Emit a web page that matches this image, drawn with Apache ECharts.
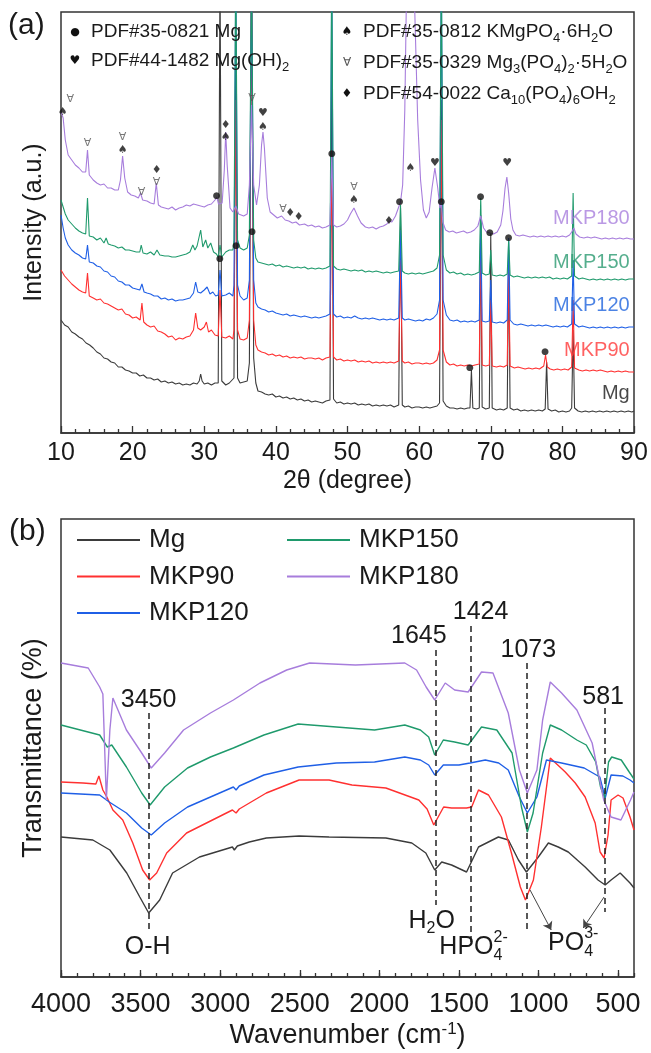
<!DOCTYPE html>
<html><head><meta charset="utf-8">
<script src="https://cdn.jsdelivr.net/npm/echarts@6/dist/echarts.min.js"></script>
<style>html,body{margin:0;padding:0;background:#fff}#c{width:651px;height:1053px}</style>
</head><body><div id="c"></div>
<script>
// ---------------- DATA ----------------
const seriesNames = ['Mg', 'MKP90', 'MKP120', 'MKP150', 'MKP180'];

// XRD: flat [2theta, intensity(a.u.)] pairs
const xrdMg = [10.0,113, 10.5,108, 11.0,106, 11.5,101, 12.0,99, 12.5,96, 13.0,94, 13.5,90, 14.0,88, 14.5,85, 15.0,81, 15.5,79, 16.0,75, 16.5,74, 17.0,71, 17.5,70, 18.0,66, 18.5,66, 19.0,63, 19.5,62, 20.0,60, 20.5,60, 21.0,57, 21.5,58, 22.0,55, 22.5,55, 23.0,53, 23.5,54, 24.0,51, 24.5,52, 25.0,50, 25.5,51, 26.0,49, 26.5,50, 27.0,48, 27.5,49, 28.0,48, 28.5,50, 29.0,49, 29.3,52, 29.5,59, 29.7,52, 30.0,49, 30.5,50, 31.0,48, 31.5,50, 31.95,50, 32.2,470, 32.45,52, 33.0,48, 33.5,50, 34.15,55, 34.4,400, 34.65,55, 35.0,50, 35.5,51, 36.0,52, 36.3,70, 36.6,470, 36.9,75, 37.2,50, 37.5,42, 38.0,41, 38.5,39, 39.0,38, 39.5,39, 40.0,36, 40.5,37, 41.0,35, 41.5,36, 42.0,34, 42.5,35, 43.0,33, 43.5,34, 44.0,32, 44.5,33, 45.0,31, 45.5,32, 46.0,31, 46.5,30, 47.0,32, 47.55,33, 47.8,380, 48.05,34, 48.5,30, 49.0,31, 49.5,29, 50.0,30, 50.5,29, 51.0,30, 51.5,28, 52.0,29, 52.5,28, 53.0,29, 53.5,27, 54.0,28, 54.5,27, 55.0,28, 55.5,27, 56.0,28, 56.5,26, 57.15,28, 57.4,225, 57.65,28, 58.0,26, 58.5,27, 59.0,25, 59.5,26, 60.0,26, 60.5,25, 61.0,26, 61.5,25, 62.0,26, 62.5,27, 62.85,30, 63.1,333, 63.35,32, 63.8,27, 64.3,25, 64.8,25, 65.3,24, 65.8,25, 66.3,24, 66.8,25, 67.1,25, 67.3,63, 67.5,25, 68.0,24, 68.4,25, 68.6,218, 68.8,26, 69.3,24, 69.8,25, 70.0,200, 70.2,25, 70.8,23, 71.3,24, 71.8,23, 72.3,25, 72.5,183, 72.7,25, 73.2,23, 73.7,24, 74.2,22, 74.7,23, 75.2,22, 75.7,23, 76.2,22, 76.7,23, 77.2,22, 77.6,24, 77.8,71, 78.0,24, 78.5,22, 79.0,23, 79.5,21, 80.0,22, 80.5,21, 81.0,22, 81.3,25, 81.5,103, 81.7,25, 82.2,22, 82.7,21, 83.2,22, 83.7,21, 84.2,22, 84.7,21, 85.2,22, 85.7,21, 86.2,22, 86.7,21, 87.2,22, 87.7,21, 88.2,22, 88.7,21, 89.2,22, 89.7,21, 90.0,22];

const xrdMKP90 = [10.0,163, 10.5,157, 11.0,153, 11.5,149, 12.0,146, 12.5,143, 13.0,141, 13.45,140, 13.7,160, 13.95,137, 14.5,135, 15.0,133, 15.5,134, 16.0,130, 16.5,129, 17.0,127, 17.5,125, 18.0,123, 18.5,124, 19.0,119, 19.5,118, 20.0,115, 20.5,116, 21.05,113, 21.3,130, 21.55,111, 22.0,108, 22.5,106, 23.0,107, 23.5,102, 24.0,101, 24.5,99, 25.0,96, 25.5,97, 26.0,93, 26.5,95, 27.0,94, 27.5,96, 28.0,97, 28.5,103, 28.8,120, 29.1,105, 29.5,103, 30.0,106, 30.3,111, 30.6,101, 31.0,103, 31.5,98, 31.95,97, 32.2,143, 32.45,96, 33.0,95, 33.5,97, 34.0,94, 34.15,103, 34.4,333, 34.65,103, 35.0,94, 35.5,93, 36.0,95, 36.3,113, 36.6,470, 36.9,113, 37.2,88, 37.5,83, 38.0,81, 38.5,80, 39.0,78, 39.5,79, 40.0,77, 40.5,78, 41.0,76, 41.5,77, 42.0,75, 42.5,76, 43.0,75, 43.5,76, 44.0,74, 44.5,75, 45.0,75, 45.5,74, 46.0,75, 46.5,73, 47.0,75, 47.55,76, 47.8,283, 48.05,76, 48.5,73, 49.0,74, 49.5,72, 50.0,73, 50.5,72, 51.0,73, 51.5,71, 52.0,72, 52.5,71, 53.0,72, 53.5,70, 54.0,71, 54.5,70, 55.0,71, 55.5,70, 56.0,71, 56.5,70, 57.15,72, 57.4,173, 57.65,72, 58.0,70, 58.5,71, 59.0,69, 59.5,70, 60.0,70, 60.5,69, 61.0,70, 61.5,69, 62.0,70, 62.5,73, 62.85,83, 63.1,313, 63.35,83, 63.8,71, 64.3,68, 64.8,69, 65.3,67, 65.8,68, 66.3,67, 66.8,68, 67.3,67, 67.8,68, 68.4,69, 68.6,193, 68.8,68, 69.3,67, 69.8,68, 70.0,133, 70.2,67, 70.8,66, 71.3,67, 71.8,66, 72.3,68, 72.5,163, 72.7,67, 73.3,65, 73.8,66, 74.3,65, 74.8,64, 75.3,65, 75.8,64, 76.3,65, 76.8,64, 77.4,67, 77.65,78, 77.9,66, 78.3,64, 78.8,63, 79.3,64, 79.8,63, 80.3,64, 80.8,63, 81.3,66, 81.5,133, 81.7,65, 82.3,63, 82.8,62, 83.3,63, 83.8,62, 84.3,63, 84.8,62, 85.3,63, 85.8,62, 86.3,61, 86.8,62, 87.3,61, 87.8,62, 88.3,61, 88.8,62, 89.3,61, 90.0,61];

const xrdMKP120 = [10.0,218, 10.3,205, 10.6,195, 11.0,188, 11.5,183, 12.0,180, 12.5,178, 13.0,175, 13.45,174, 13.7,188, 13.95,171, 14.5,170, 15.0,167, 15.5,166, 16.0,162, 16.5,161, 17.0,157, 17.5,156, 18.0,152, 18.5,151, 19.0,148, 19.5,148, 20.0,145, 20.5,144, 21.0,143, 21.3,149, 21.6,141, 22.0,140, 22.5,139, 23.0,137, 23.5,137, 24.0,134, 24.5,135, 25.0,133, 25.5,134, 26.0,132, 26.5,133, 27.0,133, 27.5,134, 28.0,135, 28.5,140, 28.8,151, 29.1,141, 29.5,140, 30.0,143, 30.4,146, 30.8,139, 31.2,141, 31.6,137, 31.95,138, 32.2,163, 32.45,137, 33.0,138, 33.5,140, 34.0,137, 34.15,148, 34.4,470, 34.65,148, 35.0,137, 35.5,133, 36.0,135, 36.3,153, 36.6,470, 36.9,153, 37.2,130, 37.5,126, 38.0,124, 38.5,123, 39.0,121, 39.5,122, 40.0,120, 40.5,119, 41.0,118, 41.5,119, 42.0,117, 42.5,118, 43.0,117, 43.5,116, 44.0,117, 44.5,116, 45.0,115, 45.5,116, 46.0,115, 46.5,116, 47.0,117, 47.55,119, 47.8,470, 48.05,119, 48.5,116, 49.0,117, 49.5,115, 50.0,116, 50.5,115, 51.0,117, 51.5,115, 52.0,114, 52.5,115, 53.0,114, 53.5,115, 54.0,114, 54.5,113, 55.0,114, 55.5,113, 56.0,114, 56.5,113, 57.15,115, 57.4,203, 57.65,115, 58.0,113, 58.5,114, 59.0,113, 59.5,112, 60.0,113, 60.5,112, 61.0,114, 61.5,113, 62.0,115, 62.5,119, 62.85,133, 63.1,470, 63.35,133, 63.8,118, 64.3,113, 64.8,112, 65.3,113, 65.8,111, 66.3,112, 66.8,111, 67.3,112, 67.8,111, 68.4,113, 68.6,213, 68.8,112, 69.3,111, 69.8,112, 70.0,153, 70.2,111, 70.8,110, 71.3,111, 71.8,110, 72.3,113, 72.5,195, 72.7,113, 73.2,109, 73.7,108, 74.2,109, 74.7,108, 75.2,107, 75.7,108, 76.2,107, 76.7,108, 77.2,107, 77.7,108, 78.2,107, 78.7,106, 79.2,107, 79.7,106, 80.2,107, 80.7,106, 81.3,109, 81.5,173, 81.7,109, 82.3,106, 82.8,107, 83.3,106, 83.8,105, 84.3,106, 84.8,105, 85.3,106, 85.8,105, 86.3,106, 86.8,105, 87.3,106, 87.8,105, 88.3,106, 88.8,105, 89.3,106, 90.0,106];

const xrdMKP150 = [10.0,233, 10.3,226, 10.6,219, 11.0,213, 11.5,209, 12.0,205, 12.5,202, 13.0,200, 13.45,199, 13.7,235, 13.95,197, 14.5,196, 15.0,193, 15.5,195, 16.0,190, 16.3,195, 16.6,189, 17.0,188, 17.5,187, 18.0,185, 18.5,186, 19.0,183, 19.5,183, 20.0,182, 20.5,181, 21.0,181, 21.2,188, 21.45,180, 22.0,179, 22.5,181, 23.0,178, 23.4,183, 23.8,178, 24.5,177, 25.0,177, 25.5,176, 26.0,176, 26.5,177, 27.0,178, 27.5,179, 28.0,181, 28.4,188, 28.7,183, 29.0,187, 29.5,203, 29.8,186, 30.2,193, 30.5,185, 30.9,190, 31.3,181, 31.7,179, 31.95,176, 32.2,188, 32.45,176, 33.0,181, 33.5,183, 34.0,183, 34.15,193, 34.4,470, 34.65,193, 35.0,185, 35.5,183, 36.0,185, 36.3,198, 36.6,470, 36.9,193, 37.2,175, 37.5,171, 38.0,170, 38.5,169, 39.0,168, 39.5,169, 40.0,167, 40.5,168, 41.0,166, 41.5,167, 42.0,166, 42.5,165, 43.0,166, 43.5,165, 44.0,166, 44.5,164, 45.0,165, 45.5,164, 46.0,165, 46.5,164, 47.0,165, 47.55,167, 47.8,470, 48.05,167, 48.5,164, 49.0,163, 49.5,164, 50.0,163, 50.5,162, 51.0,163, 51.5,162, 52.0,163, 52.5,161, 53.0,162, 53.5,161, 54.0,162, 54.5,161, 55.0,160, 55.5,161, 56.0,160, 56.5,161, 57.15,162, 57.4,228, 57.65,162, 58.0,160, 58.5,159, 59.0,160, 59.5,159, 60.0,160, 60.5,159, 61.0,160, 61.5,161, 62.0,162, 62.5,165, 62.85,178, 63.1,470, 63.35,178, 63.8,163, 64.3,160, 64.8,161, 65.3,159, 65.8,160, 66.3,158, 66.8,159, 67.3,158, 67.8,159, 68.4,161, 68.6,235, 68.8,160, 69.3,158, 69.8,159, 70.0,183, 70.2,158, 70.8,157, 71.3,158, 71.8,157, 72.3,159, 72.5,193, 72.7,158, 73.2,156, 73.7,157, 74.2,156, 74.7,155, 75.2,156, 75.7,155, 76.2,156, 76.7,155, 77.2,156, 77.7,155, 78.2,156, 78.7,154, 79.2,155, 79.7,154, 80.2,155, 80.7,154, 81.3,157, 81.5,240, 81.7,157, 82.3,154, 82.8,155, 83.3,154, 83.8,153, 84.3,154, 84.8,153, 85.3,154, 85.8,153, 86.3,154, 86.8,153, 87.3,154, 87.8,153, 88.3,154, 88.8,153, 89.3,154, 90.0,154];

const xrdMKP180 = [10.0,321, 10.3,315, 10.6,293, 11.0,278, 11.5,273, 12.0,268, 12.5,265, 13.0,261, 13.45,261, 13.7,283, 13.95,258, 14.5,253, 15.0,250, 15.5,248, 16.0,249, 16.5,245, 17.0,245, 17.5,243, 18.0,243, 18.3,253, 18.6,277, 18.9,255, 19.3,241, 19.8,238, 20.3,237, 20.8,235, 21.1,240, 21.4,233, 22.0,232, 22.5,230, 23.0,229, 23.3,250, 23.6,228, 24.0,226, 24.5,225, 25.0,224, 25.5,226, 26.0,223, 26.5,225, 27.0,226, 27.5,228, 28.0,227, 28.5,229, 29.0,228, 29.5,227, 30.0,226, 30.5,228, 31.0,229, 31.5,233, 31.75,236, 32.0,229, 32.5,230, 32.8,263, 33.0,301, 33.2,268, 33.6,225, 34.0,221, 34.4,227, 34.8,219, 35.5,217, 36.0,219, 36.3,248, 36.6,328, 36.9,248, 37.3,228, 37.7,248, 38.0,288, 38.2,301, 38.4,285, 38.8,235, 39.2,221, 39.7,218, 40.2,215, 40.8,217, 41.3,213, 41.8,212, 42.3,210, 42.8,211, 43.3,208, 44.0,209, 44.5,207, 45.0,208, 45.5,206, 46.0,207, 46.5,205, 47.0,206, 47.55,208, 47.8,277, 48.05,208, 48.5,206, 49.0,207, 49.5,209, 50.0,213, 50.4,219, 50.9,225, 51.4,217, 51.9,210, 52.5,206, 53.0,205, 53.5,206, 54.0,204, 54.5,206, 55.0,207, 55.5,209, 55.8,212, 56.2,211, 56.7,217, 57.1,225, 57.4,231, 57.7,248, 58.0,323, 58.3,473, 59.2,473, 59.5,393, 59.8,313, 60.2,253, 60.6,223, 61.0,215, 61.4,221, 61.8,245, 62.2,265, 62.6,245, 62.9,225, 63.1,231, 63.3,211, 63.7,203, 64.2,201, 64.7,202, 65.2,200, 65.7,201, 66.2,202, 66.7,200, 67.2,201, 67.7,203, 68.2,207, 68.6,217, 69.0,205, 69.4,201, 69.9,200, 70.4,199, 70.9,201, 71.4,208, 71.7,222, 72.0,245, 72.25,256, 72.5,240, 72.8,214, 73.1,203, 73.5,198, 74.0,197, 74.5,198, 75.0,197, 75.5,196, 76.0,197, 76.5,196, 77.0,197, 77.5,196, 78.0,197, 78.5,196, 79.0,197, 79.5,196, 80.0,197, 80.5,196, 81.0,198, 81.3,201, 81.6,205, 81.9,199, 82.4,196, 83.0,195, 83.5,196, 84.0,195, 84.5,196, 85.0,195, 85.5,194, 86.0,195, 86.5,194, 87.0,195, 87.5,194, 88.0,195, 88.5,194, 89.0,195, 89.5,194, 90.0,194];

// Phase markers: [2theta, intensity, glyph]
const xrdMarks = [[10.25,321,'♠'],[11.3,334,'∀'],[13.7,290,'∀'],[18.6,296,'∀'],[18.6,283,'♠'],[21.25,241,'∀'],[23.35,263,'♦'],[23.35,251,'∀'],[31.75,237,'●'],[33.0,308,'♦'],[33.0,296,'♠'],[36.68,335,'∀'],[38.2,320,'♥'],[38.2,306,'♠'],[41.0,224,'∀'],[42.0,220,'♦'],[43.2,216,'♦'],[32.2,174,'●'],[34.45,187,'●'],[36.68,201,'●'],[47.84,279,'●'],[50.9,246,'∀'],[50.9,233,'♠'],[55.8,212,'♦'],[57.3,231,'●'],[58.8,265,'♠'],[62.2,270,'♥'],[63.1,231,'●'],[68.6,236,'●'],[69.9,200,'●'],[72.3,270,'♥'],[72.5,195,'●'],[67.1,65,'●'],[77.6,81,'●']];

// Sample name labels at right end of XRD traces: [2theta, intensity, name]
const xrdNameLabels = [[89.4,215,'MKP180'],[89.4,171,'MKP150'],[89.4,128,'MKP120'],[89.4,83,'MKP90'],[89.4,40,'Mg']];

// FTIR: flat [wavenumber, transmittance(a.u.)] pairs
const ftirMg = [4000,140, 3800,137, 3693,127, 3587,104, 3505,80, 3449,64, 3380,77, 3299,104, 3130,120, 2923,130, 2911,127, 2892,131, 2817,135, 2710,139, 2504,141, 2316,140, 1959,139, 1796,134, 1708,124, 1652,107, 1608,115, 1546,112, 1452,105, 1377,130, 1252,140, 1189,137, 1126,117, 1076,105, 1001,120, 938,134, 876,130, 813,125, 707,110, 626,97, 581,92, 544,97, 487,104, 425,94, 400,89];
const ftirMKP90 = [4000,195, 3862,194, 3781,193, 3762,201, 3737,187, 3712,180, 3674,167, 3612,157, 3549,134, 3487,107, 3443,97, 3399,104, 3336,124, 3211,144, 3086,154, 2923,167, 2900,164, 2880,168, 2710,184, 2504,197, 2316,197, 2172,192, 1959,189, 1752,177, 1700,168, 1658,152, 1596,170, 1546,169, 1452,169, 1420,170, 1377,187, 1314,182, 1233,160, 1170,124, 1114,90, 1082,77, 1032,97, 982,150, 926,219, 832,205, 769,194, 707,180, 644,154, 613,125, 588,119, 563,142, 544,177, 500,182, 469,179, 425,160, 400,147];
const ftirMKP120 = [4000,184, 3757,182, 3697,175, 3589,164, 3493,149, 3433,142, 3349,154, 3205,170, 3061,180, 2917,190, 2900,187, 2880,191, 2725,202, 2510,210, 2270,214, 2030,215, 1840,220, 1742,217, 1690,212, 1652,202, 1598,212, 1500,212, 1430,214, 1334,217, 1250,214, 1190,207, 1120,180, 1070,164, 1010,180, 950,217, 855,214, 713,209, 615,200, 581,179, 544,202, 470,201, 425,197, 400,194];
const ftirMKP150 = [4000,252, 3757,242, 3709,230, 3681,232, 3589,210, 3493,184, 3440,172, 3349,190, 3205,209, 3061,220, 2917,229, 2725,242, 2510,253, 2270,250, 2030,247, 1840,252, 1742,247, 1690,240, 1652,222, 1598,237, 1527,235, 1442,232, 1358,250, 1262,247, 1166,224, 1107,170, 1070,145, 1034,164, 974,224, 926,252, 855,247, 759,237, 700,232, 640,215, 610,190, 585,179, 560,215, 540,220, 480,217, 430,205, 400,198];
const ftirMKP180 = [4000,314, 3829,309, 3757,290, 3737,283, 3715,177, 3693,247, 3674,279, 3589,247, 3493,224, 3433,209, 3349,224, 3230,247, 3061,264, 2917,277, 2750,294, 2582,307, 2438,314, 2150,312, 1840,314, 1766,307, 1706,290, 1652,277, 1586,294, 1527,287, 1442,285, 1358,305, 1286,304, 1190,264, 1120,207, 1070,184, 1010,207, 974,257, 926,295, 855,284, 759,267, 663,234, 590,177, 544,160, 482,157, 422,177, 400,185];

// FTIR band guide lines: [wavenumber, from, to]
const bandLines = [[3450,264,47],[1645,327,72],[1424,351,35],[1073,314,47],[581,269,65]];
// Arrows to PO4 label: [[wn1,v1],[wn2,v2]]
const bandArrows = [[[1053,87],[920,47]],[[588,80],[719,49]]];
// Band value labels: [wavenumber, value, text]
const bandValueLabels = [[3450,277,'3450'],[1752,341,'1645'],[1364,365,'1424'],[1064,327,'1073'],[594,280,'581']];

// Axis ticks
const xrdTicks = {min:10, max:90, interval:10};
const ftirMajorTicks = [500,1000,1500,2000,2500,3000,3500,4000];
const ftirMinorTicks = [];
for (let v = 400; v <= 4000; v += 100) ftirMinorTicks.push(v);

// ---------------- STYLE ----------------
const FONT = '"Liberation Sans", Arial, Helvetica, sans-serif';
const AX = '#333';
const TXT = '#1a1a1a';
const colors = {Mg:'#3b3b3b', MKP90:'#ff3030', MKP120:'#1f5fe6', MKP150:'#1f9a6c', MKP180:'#a77ddc'};
const labelColors = {Mg:'#1a1a1a', MKP90:'#ff3a3a', MKP120:'#1f64dd', MKP150:'#2a9a70', MKP180:'#a980dd'};

function pairs(a){const o=[];for(let i=0;i<a.length;i+=2)o.push([a[i],a[i+1]]);return o;}
const xrdData = {Mg:xrdMg, MKP90:xrdMKP90, MKP120:xrdMKP120, MKP150:xrdMKP150, MKP180:xrdMKP180};
const ftirData = {Mg:ftirMg, MKP90:ftirMKP90, MKP120:ftirMKP120, MKP150:ftirMKP150, MKP180:ftirMKP180};

const chart = echarts.init(document.getElementById('c'), null, {renderer:'canvas'});

const tickStyle = {color:AX, width:1.3};
const series = [];
seriesNames.forEach(n => series.push({
  name:n, type:'line', xAxisIndex:0, yAxisIndex:0, data:pairs(xrdData[n]),
  showSymbol:false, symbol:'none', clip:true, color:colors[n],
  lineStyle:{width:1.1, color:colors[n]}, z:2
}));
seriesNames.forEach(n => series.push({
  name:n, type:'line', xAxisIndex:1, yAxisIndex:1, data:pairs(ftirData[n]),
  showSymbol:false, symbol:'none', clip:true, color:colors[n],
  lineStyle:{width:1.4, color:colors[n]}, z:2
}));
series.push({
  type:'scatter', xAxisIndex:0, yAxisIndex:0, symbolSize:1, itemStyle:{color:'rgba(0,0,0,0)'},
  data:xrdMarks.map(d => ({value:d, label:{fontSize: d[2]==='●' ? 9 : 11, color: d[2]==='∀' ? '#555' : '#111'}})),
  z:5, silent:true,
  label:{show:true, position:'inside', formatter:p=>p.data.value[2], fontFamily:'"DejaVu Sans", sans-serif', fontSize:11, color:'#111'}
});
series.push({
  type:'scatter', xAxisIndex:0, yAxisIndex:0, symbolSize:1, itemStyle:{color:'rgba(0,0,0,0)'}, silent:true, z:5,
  data:xrdNameLabels.map(d => ({value:d, label:{color:labelColors[d[2]]}})),
  label:{show:true, position:'inside', align:'right', formatter:p=>p.data.value[2], fontFamily:FONT, fontSize:20}
});
series.push({
  type:'line', xAxisIndex:1, yAxisIndex:1, data:[], silent:true,
  markLine:{silent:true, animation:false, symbol:['none','none'], label:{show:false},
    lineStyle:{type:[6,4], color:'#222', width:1.5},
    data: bandLines.map(b => [{coord:[b[0],b[1]]},{coord:[b[0],b[2]]}])}
});
series.push({
  type:'line', xAxisIndex:1, yAxisIndex:1, data:[], silent:true,
  markLine:{silent:true, animation:false, symbol:['none','arrow'], symbolSize:8, label:{show:false},
    lineStyle:{type:'solid', color:'#444', width:1},
    data: bandArrows.map(a => [{coord:a[0]},{coord:a[1]}])}
});

const option = {
  animation:false,
  backgroundColor:'#fff',
  textStyle:{fontFamily:FONT},
  grid:[
    {left:61, top:12, width:573, height:421, show:true, borderColor:AX, borderWidth:1.5, backgroundColor:'transparent'},
    {left:61, top:519, width:573, height:458, show:true, borderColor:AX, borderWidth:1.5, backgroundColor:'transparent'}
  ],
  xAxis:[
    {gridIndex:0, type:'value', position:'bottom', min:xrdTicks.min, max:xrdTicks.max, interval:xrdTicks.interval,
     axisLine:{lineStyle:{color:AX, width:1.5}}, axisTick:{inside:true, length:7, lineStyle:tickStyle},
     minorTick:{show:true, splitNumber:5, length:4, lineStyle:tickStyle}, splitLine:{show:false},
     axisLabel:{fontSize:25, margin:8, color:TXT, fontFamily:FONT},
     name:'2θ (degree)', nameLocation:'middle', nameGap:36, nameTextStyle:{fontSize:25, color:TXT, fontFamily:FONT}},
    {gridIndex:1, type:'value', position:'bottom', min:400, max:4000, inverse:true,
     axisLine:{lineStyle:{color:AX, width:1.5}},
     axisTick:{inside:true, length:7, lineStyle:tickStyle, customValues:ftirMajorTicks},
     splitLine:{show:false},
     axisLabel:{fontSize:27, margin:14, color:TXT, fontFamily:FONT, customValues:ftirMajorTicks, formatter:v => String(v)},
     name:'{n|Wavenumber (cm}{p|-1}{n|)}', nameLocation:'middle', nameGap:44,
     nameTextStyle:{fontSize:27, color:TXT, fontFamily:FONT, rich:{
       n:{fontSize:27, color:TXT, fontFamily:FONT, lineHeight:30},
       p:{fontSize:17, color:TXT, fontFamily:FONT, lineHeight:30, padding:[0,0,14,0]}}}},
    {gridIndex:1, type:'value', position:'bottom', min:400, max:4000, inverse:true,
     axisLine:{show:false}, axisLabel:{show:false}, splitLine:{show:false},
     axisTick:{inside:true, length:4, lineStyle:tickStyle, customValues:ftirMinorTicks}}
  ],
  yAxis:[
    {gridIndex:0, type:'value', min:0, max:421, axisLine:{show:false}, axisTick:{show:false}, axisLabel:{show:false}, splitLine:{show:false},
     name:'Intensity (a.u.)', nameLocation:'middle', nameGap:14, nameTextStyle:{fontSize:25, color:TXT, fontFamily:FONT}},
    {gridIndex:1, type:'value', min:0, max:458, axisLine:{show:false}, axisTick:{show:false}, axisLabel:{show:false}, splitLine:{show:false},
     name:'Transmittance (%)', nameLocation:'middle', nameGap:14, nameTextStyle:{fontSize:27, color:TXT, fontFamily:FONT}}
  ],
  legend:[
    {data:['Mg','MKP90','MKP120'], orient:'vertical', left:77, top:527, padding:0, itemWidth:63, itemHeight:2, itemGap:10.5,
     icon:'rect', selectedMode:false, textStyle:{fontSize:26, color:TXT, fontFamily:FONT, lineHeight:26, padding:[0,0,0,4]}},
    {data:['MKP150','MKP180'], orient:'vertical', left:287, top:527, padding:0, itemWidth:63, itemHeight:2, itemGap:10.5,
     icon:'rect', selectedMode:false, textStyle:{fontSize:26, color:TXT, fontFamily:FONT, lineHeight:26, padding:[0,0,0,4]}}
  ],
  series:series
};
chart.setOption(option);

// ---------------- annotations (text) ----------------
const cv = document.createElement('canvas').getContext('2d');
function tw(s, size){cv.font = size + 'px ' + FONT; return cv.measureText(s).width;}
function txt(s, x, y, size, color, align, family){
  return {type:'text', x:x, y:y, z:50, silent:true,
    style:{text:s, font:size + 'px ' + (family || FONT), fill:color || TXT, align:align || 'left', verticalAlign:'middle'}};
}
function formula(parts, x, y, o){
  const size=o.size, small=o.small, color=o.color||TXT;
  const w = parts.map(p => p.t != null ? tw(p.t,size) : Math.max(p.sub?tw(p.sub,small):0, p.sup?tw(p.sup,small):0));
  const total = w.reduce((a,b)=>a+b,0);
  let cx = o.align==='center' ? x-total/2 : x;
  const els=[];
  parts.forEach((p,i)=>{
    if (p.t != null) els.push(txt(p.t, cx, y, size, color));
    else {
      if (p.sub) els.push(txt(p.sub, cx, y+o.subDy, small, color));
      if (p.sup) els.push(txt(p.sup, cx, y+o.supDy, small, color));
    }
    cx += w[i];
  });
  return els;
}
const toPxB = (x,y) => chart.convertToPixel({xAxisIndex:1, yAxisIndex:1}, [x,y]);

const g = [];
// panel letters
g.push(txt('(a)', 8, 26, 30, TXT));
g.push(txt('(b)', 9, 532, 30, TXT));

// XRD legend
const legA = [
  {glyph:'●', x:75, y:32, parts:[{t:'PDF#35-0821 Mg'}]},
  {glyph:'♥', x:75, y:61, parts:[{t:'PDF#44-1482 Mg(OH)'},{sub:'2'}]},
  {glyph:'♠', x:347, y:32, parts:[{t:'PDF#35-0812 KMgPO'},{sub:'4'},{t:'·6H'},{sub:'2'},{t:'O'}]},
  {glyph:'∀', x:347, y:63, parts:[{t:'PDF#35-0329 Mg'},{sub:'3'},{t:'(PO'},{sub:'4'},{t:')'},{sub:'2'},{t:'·5H'},{sub:'2'},{t:'O'}]},
  {glyph:'♦', x:347, y:94, parts:[{t:'PDF#54-0022 Ca'},{sub:'10'},{t:'(PO'},{sub:'4'},{t:')'},{sub:'6'},{t:'OH'},{sub:'2'}]}
];
legA.forEach(l => {
  g.push(txt(l.glyph, l.x, l.y, l.glyph==='●' ? 11 : 12, l.glyph==='∀' ? '#555' : '#111', 'center', '"DejaVu Sans", sans-serif'));
  formula(l.parts, l.x + 16, l.y, {size:19, small:13, subDy:6, supDy:-8}).forEach(e => g.push(e));
});

// FTIR band values
bandValueLabels.forEach(b => { const p = toPxB(b[0], b[1]); g.push(txt(b[2], p[0], p[1], 25, TXT, 'center')); });
// FTIR assignments
(function(){
  let p = toPxB(3455, 30); g.push(txt('O-H', p[0], p[1], 25, TXT, 'center'));
  p = toPxB(1671, 56); formula([{t:'H'},{sub:'2'},{t:'O'}], p[0], p[1], {size:25, small:16, subDy:8, supDy:-9, align:'center'}).forEach(e=>g.push(e));
  p = toPxB(1408, 30); formula([{t:'HPO'},{sub:'4', sup:'2-'}], p[0], p[1], {size:25, small:16, subDy:9, supDy:-9, align:'center'}).forEach(e=>g.push(e));
  p = toPxB(782, 34); formula([{t:'PO'},{sub:'4', sup:'3-'}], p[0], p[1], {size:25, small:16, subDy:9, supDy:-9, align:'center'}).forEach(e=>g.push(e));
})();

chart.setOption({graphic:{elements:g}});
</script></body></html>
